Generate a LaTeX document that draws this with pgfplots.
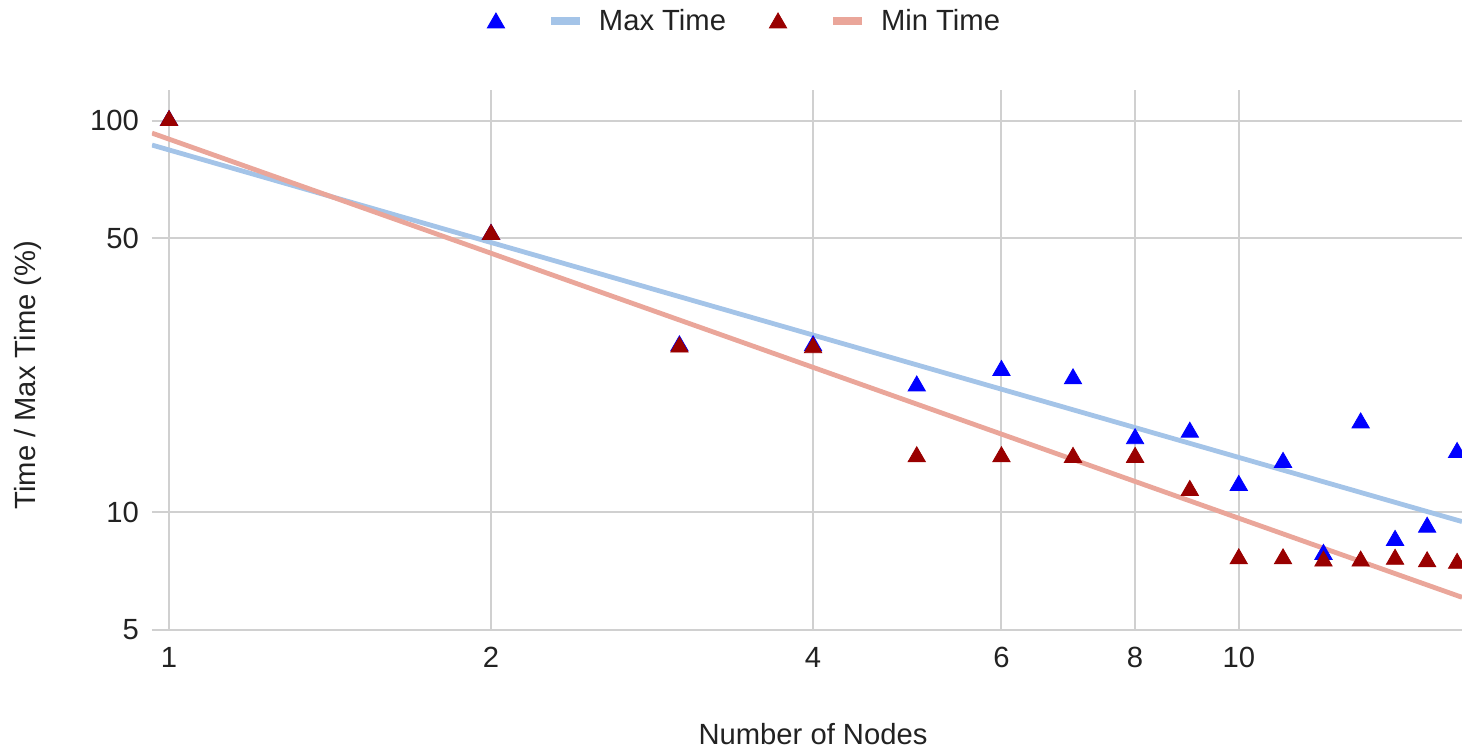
\documentclass[border=0pt]{standalone}
\usepackage{fontspec}
\setmainfont{Liberation Sans}
\usepackage{pgfplots}
\pgfplotsset{compat=1.18}
\definecolor{maxc}{RGB}{0,0,255}
\definecolor{minc}{RGB}{153,0,0}
\definecolor{maxt}{RGB}{164,196,232}
\definecolor{mint}{RGB}{234,166,154}
\definecolor{gridc}{RGB}{208,208,208}
\definecolor{txt}{RGB}{34,34,34}
\begin{document}
\begin{tikzpicture}[font=\fontsize{14.6}{17.5}\selectfont]
\begin{axis}[at={(0,0)}, anchor=south west, scale only axis,
  width=655pt, height=270pt,
  xmode=log, ymode=log,
  xmin=0.964, xmax=16.17, ymin=5, ymax=119.7,
  xtick={1,2,4,6,8,10}, xticklabels={1,2,4,6,8,10},
  ytick={5,10,50,100}, yticklabels={5,10,50,100},
  minor xtick={}, minor ytick={},
  grid=major, major grid style={gridc, line width=1pt},
  axis line style={draw=none}, major tick length=0pt,
  tick label style={text=txt},
  xticklabel style={yshift=-5pt},
  yticklabel style={xshift=-3pt},
  xlabel={Number of Nodes}, ylabel={Time / Max Time (\%)},
  xlabel style={at={(rel axis cs:0.5046,-0.193)}, anchor=center, text=txt},
  ylabel style={at={(rel axis cs:-0.0947,0.472)}, anchor=center, text=txt},
  legend columns=4,
  legend style={at={(0.4515,1.1278)}, anchor=center, draw=none, fill=none,
    inner sep=0pt, outer sep=0pt, column sep=0pt,
    nodes={inner sep=0pt, text=txt}},
]
% trend lines (power fits, endpoints)
\addplot[forget plot, maxt, line width=2.4pt] coordinates {(0.964,86.6) (16.17,9.46)};
\addplot[forget plot, mint, line width=2.4pt] coordinates {(0.964,92.9) (16.17,6.06)};
% Max Time
\addplot[forget plot, only marks, mark=triangle*, mark size=5pt, mark options={draw=maxc, fill=maxc}] coordinates {
(1,100) (2,51.2) (3,26.6) (4,26.6) (5,21.0) (6,23.0) (7,21.9) (8,15.4)
(9,16.0) (10,11.7) (11,13.4) (12,7.8) (13,16.9) (14,8.47) (15,9.15) (16,14.2)};
% Min Time
\addplot[forget plot, only marks, mark=triangle*, mark size=5pt, mark options={draw=minc, fill=minc}] coordinates {
(1,100) (2,51.2) (3,26.4) (4,26.3) (5,13.85) (6,13.85) (7,13.8) (8,13.8)
(9,11.36) (10,7.6) (11,7.6) (12,7.5) (13,7.5) (14,7.58) (15,7.47) (16,7.4)};
\addlegendimage{legend image code/.code={
  \path[draw=none, fill=none] (-4.5pt,-5pt) rectangle (26.5pt,5pt);
  \path[mark=triangle*, mark size=5pt, mark options={draw=maxc, fill=maxc}] plot[only marks] coordinates {(0pt,-1pt)};}}
\addlegendentry{}
\addlegendimage{legend image code/.code={
  \path[draw=none, fill=none] (0pt,-2pt) rectangle (24pt,2pt);
  \fill[maxt, draw=none] (0pt,-2pt) rectangle (14.5pt,2pt);}}
\addlegendentry{Max Time}
\addlegendimage{legend image code/.code={
  \path[draw=none, fill=none] (-26pt,-5pt) rectangle (26.5pt,5pt);
  \path[mark=triangle*, mark size=5pt, mark options={draw=minc, fill=minc}] plot[only marks] coordinates {(0pt,-1pt)};}}
\addlegendentry{}
\addlegendimage{legend image code/.code={
  \path[draw=none, fill=none] (0pt,-2pt) rectangle (24pt,2pt);
  \fill[mint, draw=none] (0pt,-2pt) rectangle (14.5pt,2pt);}}
\addlegendentry{Min Time}
\end{axis}
\pgfresetboundingbox
\path[use as bounding box] (-76pt,-60.5pt) rectangle (655pt,315pt);
\end{tikzpicture}
\end{document}
